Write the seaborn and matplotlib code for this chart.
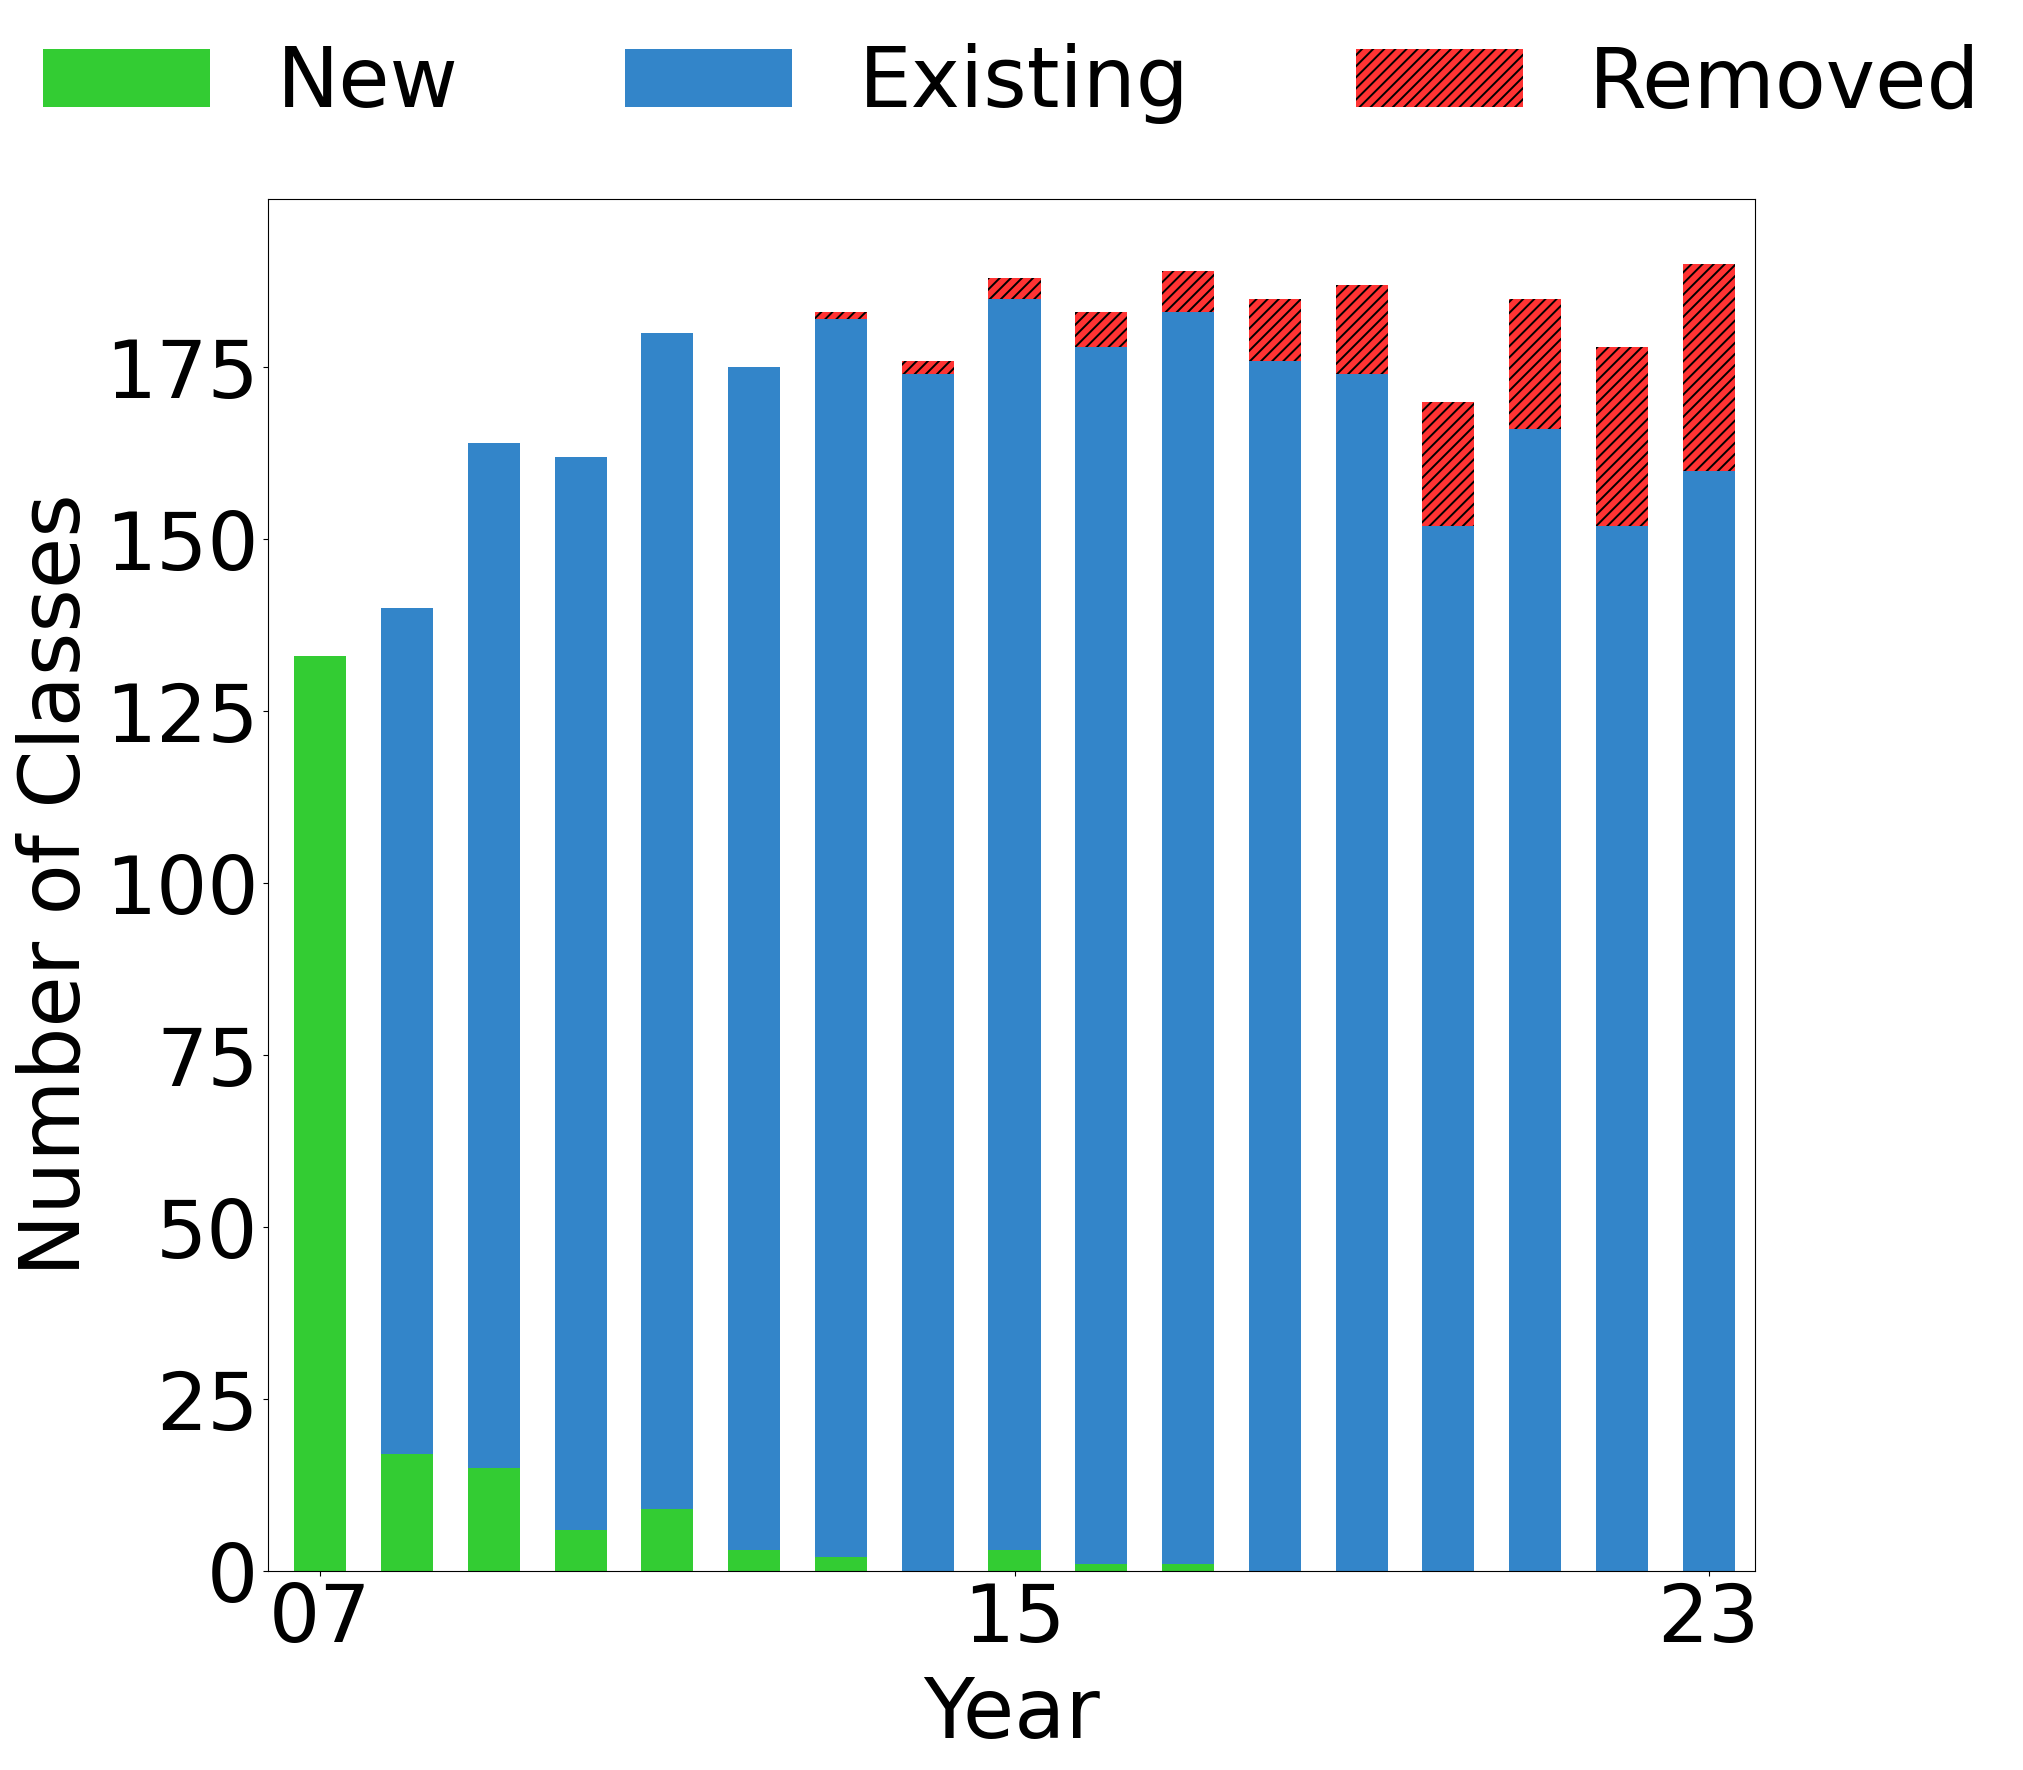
import matplotlib
matplotlib.use("Agg")
import matplotlib.pyplot as plt
import matplotlib.patches as mpatches
import seaborn as sns
import pandas as pd
import numpy as np

# Data
years = ['07', '08', '09', '10', '11', '12', '13', '14', '15',
         '16', '17', '18', '19', '20', '21', '22', '23']
new = [133, 17, 15, 6, 9, 3, 2, 0, 3, 1, 1, 0, 0, 0, 0, 0, 0]
existing = [0, 123, 149, 156, 171, 172, 180, 174, 182, 177, 182, 176, 174, 152, 166, 152, 160]
removed = [0, 0, 0, 0, 0, 0, 1, 2, 3, 5, 6, 9, 13, 18, 19, 26, 30]
shown_ticks = ['07', '15', '23']

GREEN = "#33cc33"
BLUE = "#3385c9"
RED = "#ff3333"


def create_visualization():
    df = pd.DataFrame({'year': years, 'new': new, 'existing': existing, 'removed': removed})
    df['kept'] = df['new'] + df['existing']
    df['total'] = df['kept'] + df['removed']

    plt.rcParams['hatch.linewidth'] = 1.4
    fig = plt.figure(figsize=(20.24, 17.7), dpi=100)
    ax = fig.add_axes([0.1325, 0.1124, 0.7345, 0.7752])

    # stacked bars drawn back to front: total (removed), new+existing, new
    sns.barplot(data=df, x='year', y='total', ax=ax, color=RED, width=0.6,
                hatch='///', edgecolor='black', linewidth=0, saturation=1)
    sns.barplot(data=df, x='year', y='kept', ax=ax, color=BLUE, width=0.6,
                linewidth=0, saturation=1)
    sns.barplot(data=df, x='year', y='new', ax=ax, color=GREEN, width=0.6,
                linewidth=0, saturation=1)

    ax.set_xlim(-0.6, 16.53)
    ax.set_ylim(0, 199.5)
    ax.set_yticks(np.arange(0, 176, 25))
    ax.set_xticks([years.index(t) for t in shown_ticks])
    ax.set_xticklabels(shown_ticks)
    ax.tick_params(axis='both', labelsize=58)
    ax.set_xlabel('Year', fontsize=60, labelpad=11)
    ax.set_ylabel('Number of Classes', fontsize=60, labelpad=6)

    handles = [
        mpatches.Patch(facecolor=GREEN, label='New'),
        mpatches.Patch(facecolor=BLUE, label='Existing'),
        mpatches.Patch(facecolor=RED, hatch='///', edgecolor='black', linewidth=0, label='Removed'),
    ]
    fig.legend(handles=handles, loc='upper center', bbox_to_anchor=(0.5, 1.018), ncol=3,
               frameon=False, fontsize=60, handlelength=2.0, handletextpad=0.8, columnspacing=2.0)

    fig.savefig('out.png', dpi=100)


if __name__ == "__main__":
    create_visualization()
